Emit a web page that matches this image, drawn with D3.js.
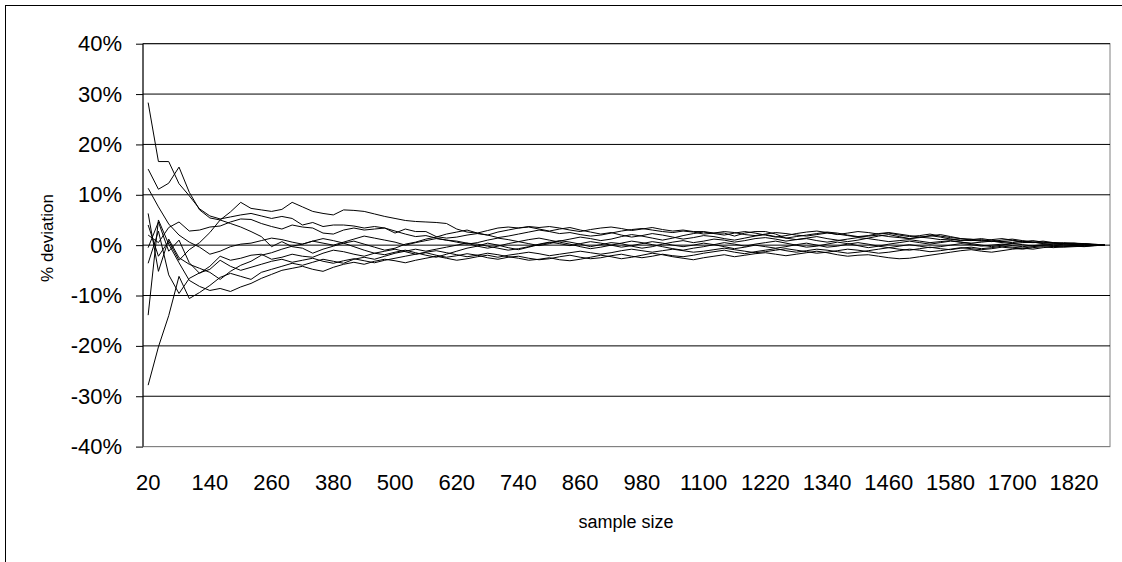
<!DOCTYPE html>
<html>
<head>
<meta charset="utf-8">
<script src="https://cdn.jsdelivr.net/npm/d3@7"></script>
<style>
  html, body { margin: 0; padding: 0; background: #fff; }
  svg { display: block; font-family: "Liberation Sans", Arial, sans-serif; }
</style>
</head>
<body>
<svg id="chart" width="1122" height="562"></svg>
<script>
// Sample sizes on the category axis
const sampleSizes = [20,40,60,80,100,120,140,160,180,200,220,240,260,280,300,320,340,360,380,400,
  420,440,460,480,500,520,540,560,580,600,620,640,660,680,700,720,740,760,780,800,
  820,840,860,880,900,920,940,960,980,1000,1020,1040,1060,1080,1100,1120,1140,1160,1180,1200,
  1220,1240,1260,1280,1300,1320,1340,1360,1380,1400,1420,1440,1460,1480,1500,1520,1540,1560,1580,1600,
  1620,1640,1660,1680,1700,1720,1740,1760,1780,1800,1820,1840,1860,1880];

// Labelled categories and percentage ticks
const xTickLabels = [20,140,260,380,500,620,740,860,980,1100,1220,1340,1460,1580,1700,1820];
const yTicks = [-40,-30,-20,-10,0,10,20,30,40];

// % deviation of each run from the full-population value
const run1 = [28.3,16.6,16.6,12.2,9.8,7.2,5.8,5.2,5.6,6.0, 6.3,5.8,5.3,5.7,5.3,4.0,4.5,3.7,4.0,4.0,
  3.8,3.4,3.7,3.4,2.4,3.2,2.7,2.7,1.7,1.4, 1.6,2.0,2.3,2.0,1.5,1.8,2.2,2.6,3.0,2.7,
  2.3,2.5,2.1,1.8,2.0,2.4,2.8,3.1,3.3,3.0, 2.7,2.5,2.8,2.6,2.2,2.4,2.7,2.5,2.1,1.9,
  2.2,2.5,2.3,2.0,1.8,2.1,2.4,2.2,1.9,1.6, 1.8,2.0,1.7,1.5,1.3,1.6,1.4,1.1,1.2,1.0,
  0.9,1.1,0.8,0.7,0.9,0.6,0.5,0.6,0.4,0.3, 0.3,0.2,0.1,0.0];
const run2 = [15.1,11.1,12.3,15.5,10.5,7.0,5.4,5.0,4.3,3.6, 2.7,1.7,-0.3,0.7,-0.3,-0.6,-1.6,-0.8,-0.2,0.4,
  0.8,0.2,-0.4,-1.0,-0.6,0.2,0.6,1.2,1.6,2.2, 2.6,3.0,2.4,2.0,2.6,3.0,3.4,3.6,3.2,2.8,
  3.2,3.5,3.0,2.6,2.2,2.5,2.0,1.6,1.9,2.3, 2.0,1.6,1.2,1.5,1.9,1.7,1.3,1.0,1.4,1.8,
  2.1,1.7,1.4,1.1,1.3,0.9,0.6,0.9,1.2,1.5, 1.3,1.0,0.7,0.9,1.1,0.8,0.5,0.7,0.9,0.6,
  0.4,0.6,0.8,0.5,0.3,0.5,0.6,0.3,0.2,0.3, 0.1,0.2,0.1,0.0];
const run3 = [11.3,7.6,4.2,2.0,0.6,-0.4,-1.8,-1.2,-0.3,0.2, 0.4,0.9,1.4,1.1,0.6,0.2,0.8,1.3,0.9,0.4,
  -0.3,-1.0,-1.6,-1.9,-1.4,-1.0,-1.5,-2.0,-2.4,-1.8, -1.2,-0.6,-0.2,0.4,0.0,-0.5,-0.9,-0.4,0.1,0.5,
  0.9,0.6,0.2,-0.3,0.1,0.5,0.3,-0.2,-0.6,-0.3, 0.2,0.6,0.9,0.5,0.8,1.2,1.0,0.6,0.9,1.3,
  1.5,1.2,0.8,1.1,1.4,1.7,1.3,1.0,0.7,1.0, 1.4,1.8,2.1,1.7,1.3,1.5,1.9,1.6,1.2,0.9,
  1.1,1.3,1.0,0.7,0.5,0.8,0.6,0.4,0.5,0.3, 0.2,0.3,0.1,0.0];
const run4 = [6.3,-5.2,1.2,-2.5,-3.8,-4.6,-5.4,-6.8,-5.2,-4.0, -3.2,-2.0,-1.5,-0.8,-0.2,0.2,0.8,0.4,0.0,0.6,
  1.2,1.8,1.4,1.0,0.6,0.0,0.5,0.9,1.3,1.0, 0.6,0.2,0.5,1.0,1.4,1.1,0.7,0.3,-0.1,0.3,
  0.8,1.2,1.6,1.3,0.9,1.2,1.7,2.1,1.8,1.4, 1.0,1.4,1.9,2.3,2.6,2.3,2.0,2.4,2.7,2.4,
  2.0,1.6,1.9,2.3,2.6,2.8,2.5,2.1,2.4,2.7, 2.5,2.2,2.4,2.0,1.7,1.9,2.2,1.8,1.5,1.3,
  1.0,0.8,1.1,1.3,1.0,0.7,0.9,0.6,0.4,0.5, 0.4,0.3,0.2,0.0];
const run5 = [4.0,-2.2,0.8,-3.0,-0.9,0.5,2.5,5.0,6.6,8.5, 7.3,7.0,6.7,7.1,8.5,7.6,6.7,6.3,6.0,7.0,
  6.9,6.7,6.2,5.7,5.3,4.9,4.7,4.6,4.5,4.3, 3.2,2.6,2.4,2.9,3.4,3.6,3.4,3.7,3.5,3.7,
  3.4,3.0,2.7,3.1,3.4,3.6,3.3,2.9,3.2,3.5, 3.1,2.8,3.0,2.7,2.7,2.4,2.4,1.8,2.4,2.7,
  2.7,2.2,1.4,1.7,2.0,2.3,2.6,2.4,2.0,1.7, 1.9,2.3,2.5,2.2,1.9,1.6,1.8,2.1,1.7,1.3,
  1.2,0.9,0.7,1.0,1.2,0.9,0.6,0.8,0.5,0.3, 0.4,0.2,0.1,0.0];
const run6 = [2.0,0.5,3.5,4.6,2.8,3.0,3.6,3.8,4.6,5.2, 5.1,4.3,3.7,3.2,4.0,3.6,3.4,2.4,2.2,3.0,
  3.4,3.0,3.2,3.4,2.8,2.2,1.7,1.9,1.4,1.0, 0.8,0.4,-0.2,-0.6,-0.2,0.3,0.7,1.1,1.4,1.0,
  0.6,0.2,-0.3,-0.7,-0.4,0.0,0.4,0.8,0.5,0.1, -0.3,-0.7,-1.0,-0.6,-0.3,0.1,0.5,0.2,-0.2,0.2,
  0.5,0.8,0.4,0.0,-0.4,-0.2,0.2,0.6,0.3,-0.1, -0.5,-0.2,0.2,0.5,0.8,0.5,0.2,0.5,0.8,0.6,
  0.3,0.0,-0.3,0.0,0.3,0.1,-0.2,0.0,0.2,0.1, -0.1,0.1,0.0,0.0];
const run7 = [-0.5,4.6,-1.2,1.0,-3.5,-5.6,-4.2,-2.2,-3.0,-2.6, -2.0,-1.8,-2.8,-2.4,-1.8,-2.2,-2.4,-1.6,-1.0,-1.3,
  -1.8,-2.2,-1.6,-1.2,-0.8,-1.3,-1.8,-1.5,-2.0,-2.4, -2.1,-1.7,-2.0,-2.5,-2.8,-2.4,-2.2,-2.6,-2.9,-2.7,
  -2.3,-2.0,-2.4,-2.7,-2.5,-2.1,-1.8,-2.2,-2.5,-2.2, -1.8,-2.1,-2.3,-2.0,-1.6,-1.3,-1.0,-1.4,-1.7,-1.3,
  -1.0,-0.7,-1.1,-1.4,-1.1,-0.8,-1.0,-1.3,-1.6,-1.4, -1.1,-0.8,-0.5,-0.8,-1.0,-0.7,-0.4,-0.7,-0.9,-0.6,
  -0.4,-0.7,-0.5,-0.2,-0.4,-0.6,-0.3,-0.1,-0.3,-0.2, -0.1,-0.2,0.0,0.0];
const run8 = [-3.6,2.8,-5.9,-9.6,-6.6,-5.5,-4.8,-3.0,-4.2,-5.0, -4.4,-3.8,-3.2,-2.8,-3.4,-3.0,-2.6,-3.2,-3.6,-3.1,
  -2.7,-3.1,-3.5,-3.0,-2.6,-2.2,-1.8,-1.4,-1.1,-1.5, -1.9,-2.3,-2.0,-1.6,-1.9,-2.3,-2.6,-3.0,-2.8,-2.5,
  -2.9,-3.1,-2.8,-2.4,-2.0,-2.3,-2.7,-2.4,-2.0,-1.6, -1.9,-2.3,-2.6,-2.9,-2.5,-2.2,-1.9,-2.3,-2.0,-1.7,
  -1.5,-1.8,-2.1,-1.8,-1.5,-1.2,-1.5,-1.9,-2.2,-2.0, -1.9,-2.2,-2.5,-2.7,-2.6,-2.3,-2.0,-1.7,-1.4,-1.1,
  -0.9,-1.2,-1.4,-1.1,-0.8,-0.6,-0.8,-0.5,-0.3,-0.4, -0.3,-0.2,-0.1,0.0];
const run9 = [-13.9,5.0,0.2,-3.5,-7.0,-8.2,-9.0,-8.6,-9.2,-8.3, -7.6,-6.6,-5.8,-5.0,-4.6,-4.2,-4.8,-5.2,-4.4,-3.8,
  -3.4,-3.8,-3.2,-2.8,-3.1,-3.5,-3.0,-2.6,-2.2,-2.6, -3.0,-2.7,-2.3,-2.0,-2.4,-2.0,-1.7,-1.4,-1.7,-2.1,
  -1.8,-1.5,-1.2,-1.5,-1.8,-1.5,-1.1,-0.8,-1.1,-1.4, -1.1,-0.8,-1.1,-1.4,-1.2,-0.9,-0.6,-0.9,-1.2,-1.5,
  -1.3,-1.0,-0.7,-1.0,-1.3,-1.6,-1.4,-1.1,-0.8,-1.0, -1.3,-1.6,-1.4,-1.1,-0.8,-1.0,-1.3,-1.1,-0.8,-0.5,
  -0.7,-0.9,-0.7,-0.4,-0.6,-0.8,-0.5,-0.3,-0.5,-0.3, -0.2,-0.3,-0.1,0.0];
const run10 = [-27.8,-20.2,-14.0,-6.2,-10.6,-9.4,-8.0,-6.4,-5.6,-6.2, -6.8,-5.4,-4.8,-4.2,-3.6,-4.0,-3.4,-2.8,-3.2,-3.6,
  -2.8,-2.4,-2.8,-2.2,-1.6,-1.2,-0.8,-1.2,-0.8,-0.4, 0.0,0.4,0.2,-0.2,-0.6,-1.0,-0.7,-0.3,0.2,0.6,
  0.3,-0.1,0.3,0.7,0.4,0.0,-0.4,-0.1,0.3,0.7, 0.4,0.0,-0.3,0.0,0.4,0.1,-0.3,-0.7,-0.4,0.0,
  -0.3,-0.6,-0.3,0.1,0.4,0.0,-0.4,-0.2,0.2,0.5, 0.2,-0.2,-0.5,-0.2,0.1,-0.2,-0.5,-0.3,0.0,0.3,
  0.1,-0.2,0.0,0.2,-0.1,-0.3,-0.1,0.1,-0.1,0.0, 0.1,-0.1,0.0,0.0];

const runs = [run1, run2, run3, run4, run5, run6, run7, run8, run9, run10];

const svg = d3.select("#chart");
const plot = { left: 143, right: 1110, top: 43.7, bottom: 446.6 };

// Outer chart frame
svg.append("rect")
  .attr("x", 5.5).attr("y", 5.5)
  .attr("width", 1140).attr("height", 580)
  .attr("fill", "none").attr("stroke", "#000").attr("stroke-width", 1);

const x = d3.scaleBand()
  .domain(sampleSizes)
  .range([plot.left, plot.right])
  .paddingInner(0).paddingOuter(0);
const xc = d => x(d) + x.bandwidth() / 2;

const y = d3.scaleLinear()
  .domain([-40, 40])
  .range([plot.bottom, plot.top]);

// Plot area border
svg.append("rect")
  .attr("x", plot.left).attr("y", plot.top)
  .attr("width", plot.right - plot.left).attr("height", plot.bottom - plot.top)
  .attr("fill", "none").attr("stroke", "#808080").attr("stroke-width", 1);

// Horizontal gridlines
svg.append("g")
  .selectAll("line")
  .data(yTicks)
  .join("line")
  .attr("x1", plot.left).attr("x2", plot.right)
  .attr("y1", d => y(d)).attr("y2", d => y(d))
  .attr("stroke", d => d === -40 ? "#808080" : "#000")
  .attr("stroke-width", 1);

// Series
const line = d3.line()
  .x((d, i) => xc(sampleSizes[i]))
  .y(d => y(d));

svg.append("g")
  .selectAll("path")
  .data(runs)
  .join("path")
  .attr("d", line)
  .attr("fill", "none")
  .attr("stroke", "#000")
  .attr("stroke-width", 1)
  .attr("stroke-linejoin", "miter");

// Y axis
const yAxis = svg.append("g")
  .attr("transform", `translate(${plot.left},0)`)
  .call(d3.axisLeft(y).tickValues(yTicks).tickFormat(d => d + "%").tickSize(7).tickPadding(14));
yAxis.select(".domain").attr("stroke", "#000").attr("d", `M0,${plot.top}V${plot.bottom}`);
yAxis.selectAll(".tick line").attr("stroke", "#000");
yAxis.selectAll("text")
  .attr("font-size", 22).attr("fill", "#000")
  .attr("font-family", "'Liberation Sans', Arial, sans-serif");

// X axis
const xAxis = svg.append("g")
  .attr("transform", `translate(0,${plot.bottom})`)
  .call(d3.axisBottom(x).tickValues(xTickLabels).tickSize(0).tickPadding(28));
xAxis.select(".domain").remove();
xAxis.selectAll("text")
  .attr("font-size", 22).attr("fill", "#000")
  .attr("font-family", "'Liberation Sans', Arial, sans-serif");

// Axis titles
svg.append("text")
  .attr("x", 626).attr("y", 528)
  .attr("text-anchor", "middle")
  .attr("font-size", 18)
  .text("sample size");

svg.append("text")
  .attr("transform", "translate(53,238) rotate(-90)")
  .attr("text-anchor", "middle")
  .attr("font-size", 17)
  .text("% deviation");
</script>
</body>
</html>
